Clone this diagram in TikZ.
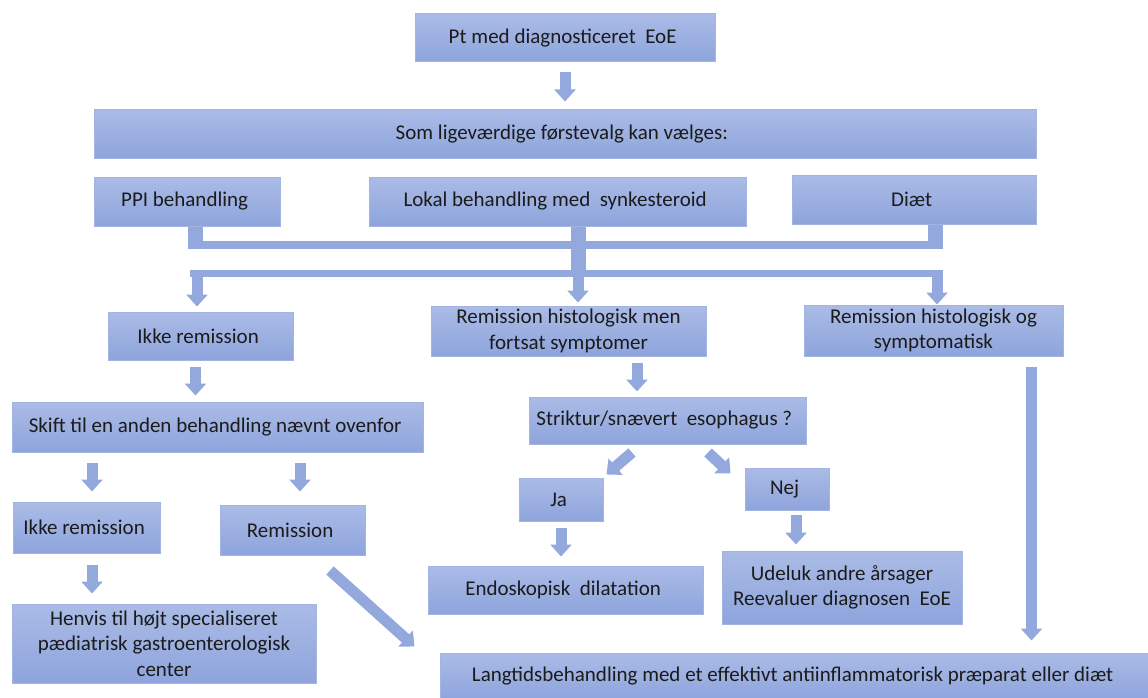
\documentclass[tikz,border=0pt]{standalone}
\usepackage{fontspec}
\setmainfont{Carlito}
\usetikzlibrary{arrows.meta}
\definecolor{boxtop}{HTML}{AABBE6}
\definecolor{boxbot}{HTML}{8EA4DC}
\definecolor{boxedge}{HTML}{A3B4E2}
\definecolor{pilfarve}{HTML}{93A8DD}
\definecolor{tekst}{HTML}{1B1B1B}
\tikzset{
	boks/.style = { draw = boxedge, line width = 1pt, top color = boxtop, bottom color = boxbot,
		text = tekst, font = \fontsize{21}{25.5}\selectfont, align = center, inner sep = 0pt },
	pil/.style = { draw = pilfarve, line width = 11pt, -{Triangle[width = 21pt, length = 12pt]} },
	bjaelke/.style = { draw = pilfarve, line width = 8pt },
	stump/.style = { draw = pilfarve, line width = 15pt }
}
\begin{document}
\begin{tikzpicture}[x = 1pt, y = -1pt]
	\useasboundingbox (0,0) rectangle (1148,698);
	% boxes
	\node [boks, minimum width = 300pt, minimum height = 48pt] (pt) at (565,38) { Pt med diagnosticeret~ EoE };
	\node [boks, minimum width = 942pt, minimum height = 48pt] (som) at (565,134) { Som ligeværdige førstevalg kan vælges: };
	\node [boks, minimum width = 186pt, minimum height = 49pt] (ppi) at (187,201.5) { PPI behandling };
	\node [boks, minimum width = 377pt, minimum height = 49pt] (lokal) at (557.5,201.5) { Lokal behandling med~ synkesteroid };
	\node [boks, minimum width = 244pt, minimum height = 49pt] (diaet) at (914,199.5) { Diæt };
	\node [boks, minimum width = 185pt, minimum height = 48pt] (ikke1) at (200.5,336) { Ikke remission };
	\node [boks, minimum width = 275pt, minimum height = 50pt] (rhm) at (568.5,331) { Remission histologisk men\\ fortsat symptomer };
	\node [boks, minimum width = 259pt, minimum height = 51pt] (rhs) at (933.5,330.5) { Remission histologisk og\\ symptomatisk };
	\node [boks, minimum width = 411pt, minimum height = 50pt] (skift) at (217.5,427) { Skift til en anden behandling nævnt ovenfor };
	\node [boks, minimum width = 147pt, minimum height = 51pt] (ikke2) at (86.5,527.5) { Ikke remission };
	\node [boks, minimum width = 145pt, minimum height = 50pt] (rem) at (292.5,530) { Remission };
	\node [boks, minimum width = 304pt, minimum height = 79pt] (henvis) at (164,643.5) { Henvis til højt specialiseret\\ pædiatrisk gastroenterologisk\\ center };
	\node [boks, minimum width = 277pt, minimum height = 47pt] (strik) at (667.5,420.5) { Striktur/snævert~ esophagus ? };
	\node [boks, minimum width = 84pt, minimum height = 43pt] (ja) at (561,499.5) { Ja };
	\node [boks, minimum width = 84pt, minimum height = 42pt] (nej) at (787,489) { Nej };
	\node [boks, minimum width = 275pt, minimum height = 48pt] (endo) at (565.5,590) { Endoskopisk~ dilatation };
	\node [boks, minimum width = 240pt, minimum height = 73pt] (udeluk) at (842,587.5) { Udeluk andre årsager\\ Reevaluer diagnosen~ EoE };
	\node [boks, minimum width = 710pt, minimum height = 47pt] (lang) at (795,676.5) { Langtidsbehandling med et effektivt antiinflammatorisk præparat eller diæt };

	% samling af de tre behandlinger
	\coordinate (s1) at (195,249);
	\coordinate (s2) at (578,245);
	\coordinate (s3) at (935,249);
	\coordinate (s4) at (578,277);
	\coordinate (b2l) at (190,273.5);
	\coordinate (b2r) at (943,273.5);
	\draw [bjaelke] (s1 |- s2) -- (s3 |- s2);
	\draw [stump] (s1 |- ppi.south) -- (s1);
	\draw [stump] (s2 |- lokal.south) -- (s4);
	\draw [stump] (s3 |- diaet.south) -- (s3);
	\draw [bjaelke, line width = 7pt] (b2l) -- (b2r);

	% arrows
	\draw [pil, shorten <= 10pt, shorten >= 8pt] (pt) -- (som);
	\draw [pil, shorten >= 5pt] ([xshift = -3.5pt]ikke1.north |- s4) -- ([xshift = -3.5pt]ikke1.north);
	\draw [pil, shorten >= 3pt] (s4) -- (s4 |- rhm.north);
	\draw [pil, shorten >= 0pt] ([xshift = 3.5pt]rhs.north |- s4) -- ([xshift = 3.5pt]rhs.north);
	\draw [pil, shorten <= 6pt, shorten >= 6pt] ([xshift = -5pt]ikke1.south) -- ([xshift = -5pt]ikke1.south |- skift.north);
	\draw [pil, shorten <= 10pt, shorten >= 10pt] ([xshift = 5.5pt]ikke2.north |- skift.south) -- ([xshift = 5.5pt]ikke2.north);
	\draw [pil, shorten <= 10pt, shorten >= 13pt] ([xshift = 7.5pt]rem.north |- skift.south) -- ([xshift = 7.5pt]rem.north);
	\draw [pil, shorten <= 11pt, shorten >= 10pt] ([xshift = 5.5pt]ikke2.south) -- ([xshift = 5.5pt]ikke2.south |- henvis.north);
	\draw [pil] ([shift = {(37.5,15)}]rem.south) -- ([shift = {(-25,-6)}]lang.north west);
	\draw [pil, shorten <= 6pt, shorten >= 5pt] ([xshift = -30.5pt]strik.north |- rhm.south) -- ([xshift = -30.5pt]strik.north);
	\draw [pil] ([shift = {(-35.5,8)}]strik.south) -- ([shift = {(3,-3)}]ja.north east);
	\draw [pil] ([shift = {(40.5,8)}]strik.south) -- ([shift = {(-14,6)}]nej.north west);
	\draw [pil, shorten <= 6pt, shorten >= 9pt] (ja.south) -- (ja.south |- endo.north);
	\draw [pil, shorten <= 4pt, shorten >= 6pt] ([xshift = 9pt]nej.south) -- ([xshift = 9pt]nej.south |- udeluk.north);
	\draw [pil, shorten <= 10pt, shorten >= 12pt] ([xshift = -32pt]rhs.south east) -- ([xshift = -32pt]rhs.south east |- lang.north);
\end{tikzpicture}
\end{document}
